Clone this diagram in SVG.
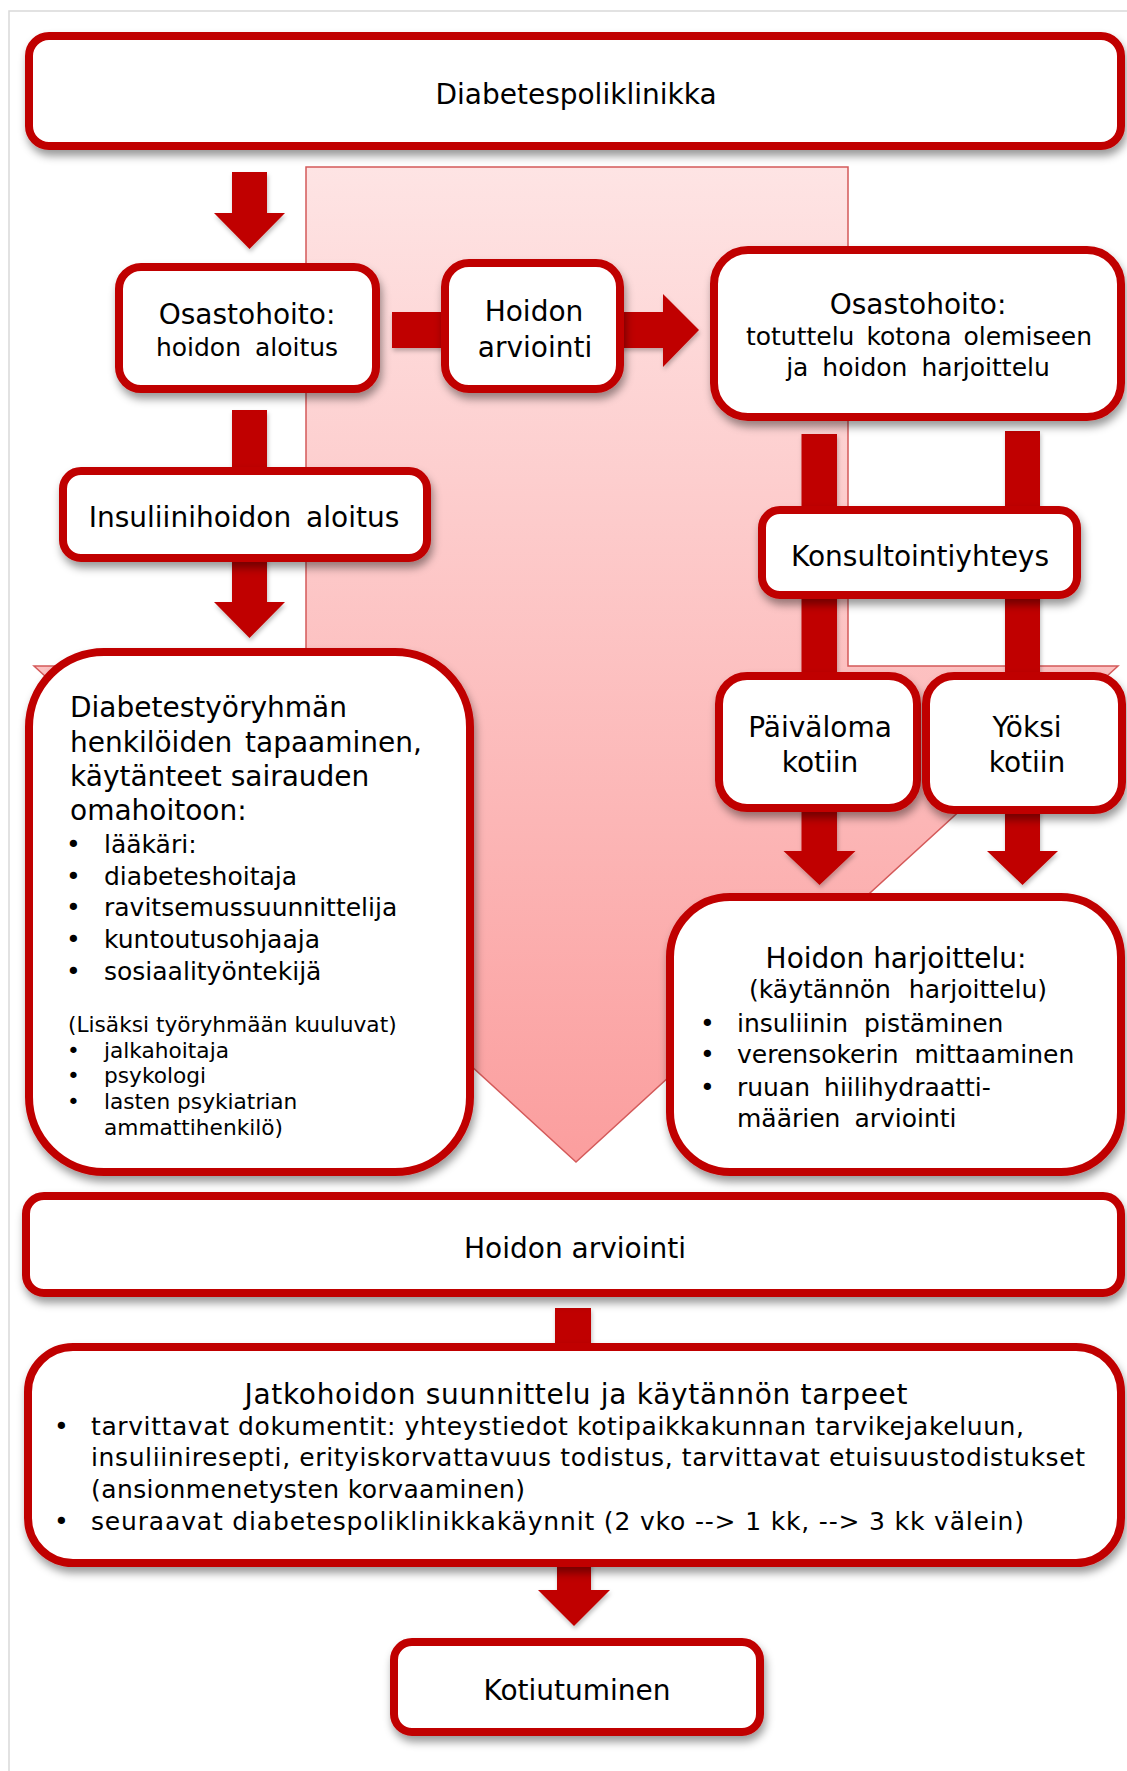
<svg xmlns="http://www.w3.org/2000/svg" width="1127" height="1771" viewBox="0 0 1127 1771">
<defs>
<linearGradient id="band" gradientUnits="userSpaceOnUse" x1="0" y1="167" x2="0" y2="1162">
<stop offset="0" stop-color="#fee4e4"/>
<stop offset="1" stop-color="#fb9e9e"/>
</linearGradient>
<filter id="sh" x="-10%" y="-10%" width="125%" height="135%">
<feDropShadow dx="2" dy="6" stdDeviation="4" flood-color="#000" flood-opacity="0.4"/>
</filter>
<filter id="ash" x="-20%" y="-20%" width="150%" height="150%">
<feDropShadow dx="1" dy="3" stdDeviation="2" flood-color="#000" flood-opacity="0.25"/>
</filter>
</defs>
<style>
.box{fill:#fff;stroke:#C00000;stroke-width:8;filter:url(#sh)}
.t{font-family:"DejaVu Sans",Verdana,sans-serif;fill:#000}
.c{text-anchor:middle}
.big{font-size:28px}
.mid{font-size:25px}
.sm{font-size:21.7px}
.arr{fill:#C00000;filter:url(#ash)}
</style>
<rect x="0" y="0" width="1127" height="1771" fill="#fff"/>
<path d="M9 1771 V11 H1127" fill="none" stroke="#d9d9d9" stroke-width="1.5"/>

<g id="flow-band">
<polygon points="306,167 848,167 848,666 1118,666 576,1162 34,666 306,666" fill="url(#band)" stroke="#d45a5a" stroke-width="1.5"/>
</g>

<g id="connectors">
<polygon class="arr" points="232,172 267,172 267,213 285,213 249.5,249 214,213 232,213"/>
<rect class="arr" x="232" y="410" width="35" height="65"/>
<polygon class="arr" points="232,556 267,556 267,602 285,602 249.5,638 214,602 232,602"/>
<polygon class="arr" points="392,312 663,312 663,294 699,330 663,367 663,348 392,348"/>
<rect class="arr" x="801.5" y="434" width="35.5" height="246"/>
<rect class="arr" x="1005" y="431" width="35" height="249"/>
<polygon class="arr" points="801.5,806 837,806 837,851 855.5,851 819.5,885 783.5,851 801.5,851"/>
<polygon class="arr" points="1005,806 1040,806 1040,851 1058,851 1022.5,885 987,851 1005,851"/>
<rect class="arr" x="555" y="1308" width="36" height="44"/>
<polygon class="arr" points="557,1558 591,1558 591,1590 610,1590 574,1626 538,1590 557,1590"/>
</g>

<g id="diabetespoliklinikka">
<rect class="box" x="29" y="36" width="1092" height="110" rx="20"/>
<text class="t c big" x="576" y="104">Diabetespoliklinikka</text>
</g>

<g id="osastohoito-aloitus">
<rect class="box" x="119" y="267" width="257" height="122" rx="22"/>
<text class="t c big" x="247" y="324">Osastohoito:</text>
<text class="t c mid" x="247" y="356" word-spacing="6">hoidon aloitus</text>
</g>

<g id="hoidon-arviointi-1">
<rect class="box" x="445" y="263" width="175" height="126" rx="24"/>
<text class="t c big" x="534" y="321">Hoidon</text>
<text class="t c big" x="535" y="357">arviointi</text>
</g>

<g id="osastohoito-totuttelu">
<rect class="box" x="714" y="250" width="407" height="167" rx="34"/>
<text class="t c big" x="918" y="314">Osastohoito:</text>
<text class="t c mid" x="919" y="345" word-spacing="4">totuttelu kotona olemiseen</text>
<text class="t c mid" x="918" y="376" word-spacing="6">ja hoidon harjoittelu</text>
</g>

<g id="insuliinihoidon-aloitus">
<rect class="box" x="63" y="471" width="364" height="87" rx="18"/>
<text class="t c big" x="244" y="527" word-spacing="6">Insuliinihoidon aloitus</text>
</g>

<g id="konsultointiyhteys">
<rect class="box" x="762" y="510" width="315" height="85" rx="18"/>
<text class="t c big" x="920" y="566">Konsultointiyhteys</text>
</g>

<g id="paivaloma">
<rect class="box" x="719" y="676" width="198" height="132" rx="28"/>
<text class="t c big" x="820" y="737">Päiväloma</text>
<text class="t c big" x="820" y="772">kotiin</text>
</g>

<g id="yoksi">
<rect class="box" x="926" y="676" width="196" height="134" rx="28"/>
<text class="t c big" x="1027" y="737">Yöksi</text>
<text class="t c big" x="1027" y="772">kotiin</text>
</g>

<g id="diabetestyoryhma">
<rect class="box" x="29" y="652" width="441" height="520" rx="75"/>
<text class="t big" x="70" y="717">Diabetestyöryhmän</text>
<text class="t big" x="70" y="752" word-spacing="4">henkilöiden tapaaminen,</text>
<text class="t big" x="70" y="786">käytänteet sairauden</text>
<text class="t big" x="70" y="820">omahoitoon:</text>
<g class="t mid">
<text x="66" y="853">•</text><text x="104" y="853">lääkäri:</text>
<text x="66" y="885">•</text><text x="104" y="885">diabeteshoitaja</text>
<text x="66" y="916">•</text><text x="104" y="916">ravitsemussuunnittelija</text>
<text x="66" y="948">•</text><text x="104" y="948">kuntoutusohjaaja</text>
<text x="66" y="980">•</text><text x="104" y="980">sosiaalityöntekijä</text>
</g>
<g class="t sm">
<text x="68" y="1032">(Lisäksi työryhmään kuuluvat)</text>
<text x="67" y="1058">•</text><text x="104" y="1058">jalkahoitaja</text>
<text x="67" y="1083">•</text><text x="104" y="1083">psykologi</text>
<text x="67" y="1109">•</text><text x="104" y="1109">lasten psykiatrian</text>
<text x="104" y="1135">ammattihenkilö)</text>
</g>
</g>

<g id="hoidon-harjoittelu">
<rect class="box" x="670" y="897" width="451" height="275" rx="60"/>
<text class="t c big" x="896" y="968">Hoidon harjoittelu:</text>
<text class="t c mid" x="898" y="998" word-spacing="10">(käytännön harjoittelu)</text>
<g class="t mid">
<text x="700" y="1032">•</text><text x="737" y="1032" word-spacing="8">insuliinin pistäminen</text>
<text x="700" y="1063">•</text><text x="737" y="1063" word-spacing="8">verensokerin mittaaminen</text>
<text x="700" y="1096">•</text><text x="737" y="1096" word-spacing="6">ruuan hiilihydraatti-</text>
<text x="737" y="1127" word-spacing="6">määrien arviointi</text>
</g>
</g>

<g id="hoidon-arviointi-2">
<rect class="box" x="26" y="1196" width="1095" height="97" rx="18"/>
<text class="t c big" x="575" y="1258">Hoidon arviointi</text>
</g>

<g id="jatkohoidon-suunnittelu">
<rect class="box" x="28" y="1347" width="1093" height="216" rx="45"/>
<text class="t c big" x="576" y="1404" textLength="663" lengthAdjust="spacing">Jatkohoidon suunnittelu ja käytännön tarpeet</text>
<g class="t mid">
<text x="54" y="1435">•</text><text x="91" y="1435" textLength="933" lengthAdjust="spacing">tarvittavat dokumentit:  yhteystiedot kotipaikkakunnan  tarvikejakeluun,</text>
<text x="91" y="1466" textLength="994" lengthAdjust="spacing">insuliiniresepti,  erityiskorvattavuus todistus, tarvittavat etuisuustodistukset</text>
<text x="91" y="1498" textLength="434" lengthAdjust="spacing">(ansionmenetysten  korvaaminen)</text>
<text x="54" y="1530">•</text><text x="91" y="1530" textLength="933" lengthAdjust="spacing">seuraavat diabetespoliklinikkakäynnit  (2 vko --&gt; 1 kk, --&gt; 3 kk  välein)</text>
</g>
</g>

<g id="kotiutuminen">
<rect class="box" x="394" y="1642" width="366" height="90" rx="18"/>
<text class="t c big" x="577" y="1700">Kotiutuminen</text>
</g>
</svg>
